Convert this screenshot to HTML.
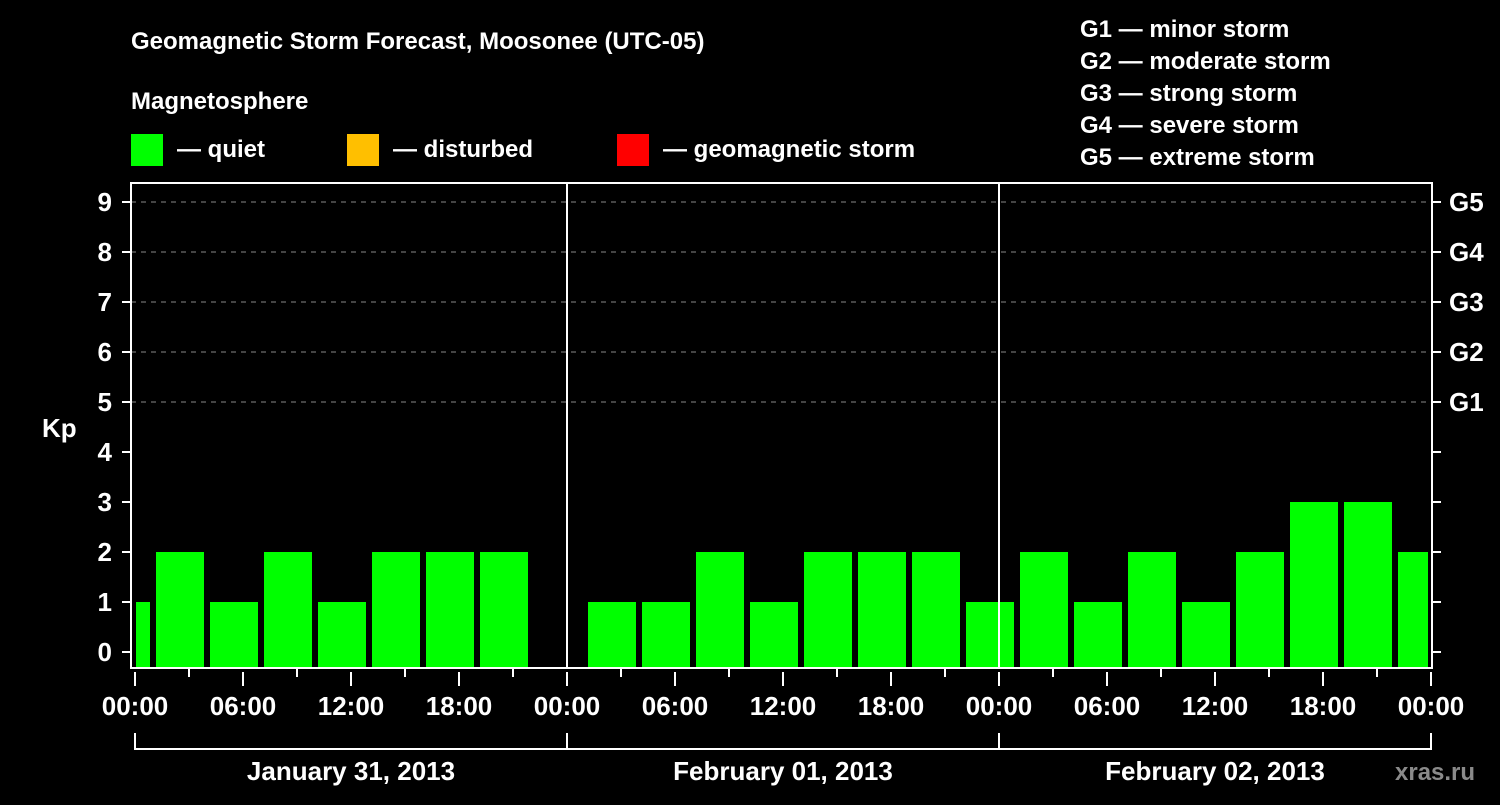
<!DOCTYPE html>
<html><head><meta charset="utf-8"><style>
body{margin:0;background:#000;}
svg text{font-family:"Liberation Sans",Arial,sans-serif;font-weight:bold;fill:#fff;}
</style></head><body>
<svg width="1500" height="800" xmlns="http://www.w3.org/2000/svg">
<rect width="1500" height="800" fill="#000"/>
<text x="131" y="49" font-size="24">Geomagnetic Storm Forecast, Moosonee (UTC-05)</text>
<text x="131" y="109" font-size="24">Magnetosphere</text>
<rect x="131" y="134" width="32" height="32" fill="#00ff00"/>
<text x="177" y="157" font-size="24">— quiet</text>
<rect x="347" y="134" width="32" height="32" fill="#ffbf00"/>
<text x="393" y="157" font-size="24">— disturbed</text>
<rect x="617" y="134" width="32" height="32" fill="#ff0000"/>
<text x="663" y="157" font-size="24">— geomagnetic storm</text>
<g font-size="24">
<text x="1080" y="37">G1 — minor storm</text>
<text x="1080" y="69">G2 — moderate storm</text>
<text x="1080" y="101">G3 — strong storm</text>
<text x="1080" y="133">G4 — severe storm</text>
<text x="1080" y="165">G5 — extreme storm</text>
</g>
<text x="42" y="437" font-size="26">Kp</text>
<text x="1395" y="780" font-size="24" fill="#888" style="fill:#8a8a8a">xras.ru</text>
<g id="plot"></g>
</svg>
<script>
const kpValues=[1,2,1,2,1,2,2,2,null,1,1,2,1,2,2,2,1,2,1,2,1,2,3,3,2];
const binStartHours=[-2,1,4,7,10,13,16,19,22,25,28,31,34,37,40,43,46,49,52,55,58,61,64,67,70];
const dayLabels=["January 31, 2013","February 01, 2013","February 02, 2013"];
const hourLabels=["00:00","06:00","12:00","18:00"];
const gLabels=["G1","G2","G3","G4","G5"];

const ns="http://www.w3.org/2000/svg";
const g=document.getElementById('plot');
const X0=135,PX_H=18,Y0=652,PX_KP=50,L=131,R=1432,T=183,B=668;
const x=h=>X0+h*PX_H, y=v=>Y0-v*PX_KP;
function mk(tag,attrs,parent){const e=document.createElementNS(ns,tag);for(const k in attrs)e.setAttribute(k,attrs[k]);(parent||g).appendChild(e);return e;}
// grid
for(let v=5;v<=9;v++){
 const l=mk('line',{x1:L,x2:R,y1:y(v),y2:y(v),stroke:'#888','stroke-dasharray':'5,5','stroke-width':1});
 
 
}
// bars
kpValues.forEach((v,i)=>{
 if(v===null)return;
 let x1=x(binStartHours[i])+3,x2=x(binStartHours[i]+3)-3;
 x1=Math.max(x1,X0+1);x2=Math.min(x2,x(72)-3);
 const col=v>=5?'#ff0000':(v>=4?'#ffbf00':'#00ff00');
 const r=mk('rect',{x:x1,y:y(v),width:x2-x1,height:B-y(v),fill:col});
 
 
});
// day dividers
[24,48].forEach(h=>{const l=mk('line',{x1:x(h),x2:x(h),y1:T,y2:B,stroke:'#fff','stroke-width':2});
 
 });
// frame
const f=mk('rect',{x:L,y:T,width:R-L,height:B-T,fill:'none',stroke:'#fff','stroke-width':2});


// y ticks & labels
for(let v=0;v<=9;v++){
 mk('line',{x1:122,x2:L,y1:y(v),y2:y(v),stroke:'#fff','stroke-width':2});
 mk('line',{x1:R,x2:1441,y1:y(v),y2:y(v),stroke:'#fff','stroke-width':2});
 const t=mk('text',{x:112,y:y(v)+9,'font-size':26,'text-anchor':'end'});t.textContent=v;
 
 
}
gLabels.forEach((s,i)=>{const t=mk('text',{x:1449,y:y(5+i)+9,'font-size':26});t.textContent=s;
 
 });
// x ticks
for(let h=0;h<=72;h+=3){
 const major=h%6===0;
 mk('line',{x1:x(h),x2:x(h),y1:major?672:668,y2:major?686:677,stroke:'#fff','stroke-width':2});
 if(major){const t=mk('text',{x:x(h),y:715,'font-size':26,'text-anchor':'middle'});t.textContent=hourLabels[(h/6)%4];
  
  }
}
// day brackets
mk('line',{x1:x(0),x2:x(72),y1:749,y2:749,stroke:'#fff','stroke-width':2});
[0,24,48,72].forEach(h=>mk('line',{x1:x(h),x2:x(h),y1:733,y2:750,stroke:'#fff','stroke-width':2}));
dayLabels.forEach((s,i)=>{const t=mk('text',{x:x(i*24+12),y:780,'font-size':26,'text-anchor':'middle'});t.textContent=s;
 
 });
</script>
</body></html>
